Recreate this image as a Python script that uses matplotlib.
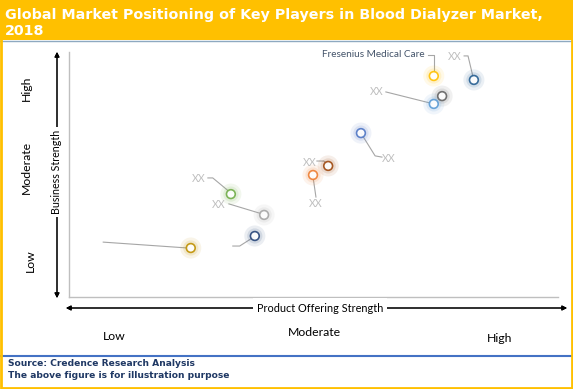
import matplotlib.pyplot as plt
from matplotlib.patches import Rectangle
from matplotlib.lines import Line2D

# player positions (0-100 scale: product offering strength, business strength)
players = ['Fresenius Medical Care', 'XX', 'P3', 'XX', 'XX', 'XX', 'XX', 'XX', 'XX', 'P10', 'P11']
prod_strength = [74.6, 82.8, 76.3, 74.6, 59.7, 53.0, 49.9, 33.1, 39.9, 38.0, 24.9]
bus_strength = [90.2, 88.6, 82.0, 78.8, 66.9, 53.5, 49.8, 42.0, 33.5, 24.9, 20.0]
colors = ['#FFC000', '#255E91', '#636363', '#5B9BD5', '#4F76C4', '#9E480E',
          '#ED7D31', '#70AD47', '#A5A5A5', '#264478', '#BF9000']

# label positions (None = no label shown)
label_x = [72.8, 78.9, None, 63.0, 65.4, 49.3, 50.5, 26.6, 30.7, None, None]
label_y = [98.8, 98.0, None, 83.7, 56.7, 55.1, 38.0, 48.2, 37.6, None, None]

# leader lines
leaders = [
    ([73.4, 74.6, 74.6], [98.8, 98.8, 92.0]),
    ([80.8, 81.6, 82.6], [98.4, 98.4, 90.0]),
    None,
    ([64.8, 74.2], [83.7, 79.0]),
    ([59.7, 62.6, 64.0], [66.9, 57.6, 57.1]),
    ([50.7, 52.1, 52.8], [55.5, 55.5, 54.3]),
    ([49.9, 50.5], [49.0, 40.8]),
    ([28.4, 29.4, 32.9], [48.6, 48.6, 42.8]),
    ([32.7, 39.5], [38.0, 33.9]),
    ([33.5, 34.9, 37.8], [20.8, 20.8, 24.5]),
    ([7.0, 24.3], [22.4, 20.0]),
]

x_levels = ['Low', 'Moderate', 'High']
y_levels = ['High', 'Moderate', 'Low']

W, H = 573, 389
fig = plt.figure(figsize=(W / 100, H / 100), dpi=100)

def fx(px):
    return px / W

def fy(py):
    return 1 - py / H

# title band and frame
fig.patches.append(Rectangle((0, fy(40)), 1, 40 / H, transform=fig.transFigure,
                             facecolor='#FFC000', edgecolor='none', zorder=0))
fig.patches.append(Rectangle((0.002, 0.003), 0.996, 0.994, transform=fig.transFigure,
                             facecolor='none', edgecolor='#FFC000', lw=2, zorder=5))
fig.lines.append(Line2D([0, 1], [fy(40.5), fy(40.5)], transform=fig.transFigure,
                        color='#8EA9C1', lw=1))
fig.lines.append(Line2D([0, 1], [fy(356), fy(356)], transform=fig.transFigure,
                        color='#4472C4', lw=1.5))

fig.text(fx(5), fy(15), 'Global Market Positioning of Key Players in Blood Dialyzer Market,',
         color='white', fontsize=10.3, fontweight='bold', va='center', ha='left')
fig.text(fx(5), fy(31), '2018', color='white', fontsize=10.3, fontweight='bold',
         va='center', ha='left')

fig.text(fx(8), fy(364), 'Source: Credence Research Analysis', color='#1F3864',
         fontsize=6.6, fontweight='bold', va='center')
fig.text(fx(8), fy(376), 'The above figure is for illustration purpose', color='#1F3864',
         fontsize=6.6, fontweight='bold', va='center')

# plot area
ax = fig.add_axes([fx(69), fy(297), (558 - 69) / W, (297 - 52) / H])
ax.set_xlim(0, 100)
ax.set_ylim(0, 100)
ax.set_xticks([])
ax.set_yticks([])
for s in ['top', 'right']:
    ax.spines[s].set_visible(False)
for s in ['left', 'bottom']:
    ax.spines[s].set_color('#BFBFBF')
    ax.spines[s].set_linewidth(1)

for ln in leaders:
    if ln is not None:
        ax.plot(ln[0], ln[1], color='#A6A6A6', lw=0.8, zorder=2)

ax.scatter(prod_strength, bus_strength, s=230, c=colors, alpha=0.09, edgecolors='none', zorder=3)
ax.scatter(prod_strength, bus_strength, s=120, c=colors, alpha=0.13, edgecolors='none', zorder=3)
ax.scatter(prod_strength, bus_strength, s=40, facecolors='white', edgecolors=colors,
           linewidths=1.2, alpha=0.9, zorder=4)

for i, name in enumerate(players):
    if label_x[i] is None:
        continue
    if i == 0:
        ax.text(label_x[i], label_y[i], name, ha='right', va='center', fontsize=7.2,
                color='#44546A', family='Lato')
    else:
        ax.text(label_x[i], label_y[i], name, ha='center', va='center', fontsize=7.6,
                color='#BFBFBF', family='Lato')

# axis arrows
arrow = dict(arrowstyle='<|-|>', color='black', lw=0.8, mutation_scale=7, shrinkA=0, shrinkB=0)
fig.add_artist(plt.annotate('', xy=(fx(57), fy(52)), xytext=(fx(57), fy(298)),
                            xycoords='figure fraction', arrowprops=arrow))
fig.add_artist(plt.annotate('', xy=(fx(66), fy(308)), xytext=(fx(567), fy(308)),
                            xycoords='figure fraction', arrowprops=arrow))

fig.text(fx(57), fy(172), 'Business Strength', rotation=90, ha='center', va='center',
         fontsize=7.7, family='Lato', color='black',
         bbox=dict(facecolor='white', edgecolor='none', pad=2))
fig.text(fx(320), fy(308), 'Product Offering Strength', ha='center', va='center',
         fontsize=7.8, family='Lato', color='black',
         bbox=dict(facecolor='white', edgecolor='none', pad=3))

xl_pos = [(114, 336), (314, 333), (500, 338)]
for lab, (px, py) in zip(x_levels, xl_pos):
    fig.text(fx(px), fy(py), lab, ha='center', va='center', fontsize=8.8, family='Lato')

yl_pos = [(26, 88), (26, 167), (30, 261)]
for lab, (px, py) in zip(y_levels, yl_pos):
    fig.text(fx(px), fy(py), lab, ha='center', va='center', fontsize=8.8, family='Lato',
             rotation=90)

fig.savefig('out.png', dpi=100)
